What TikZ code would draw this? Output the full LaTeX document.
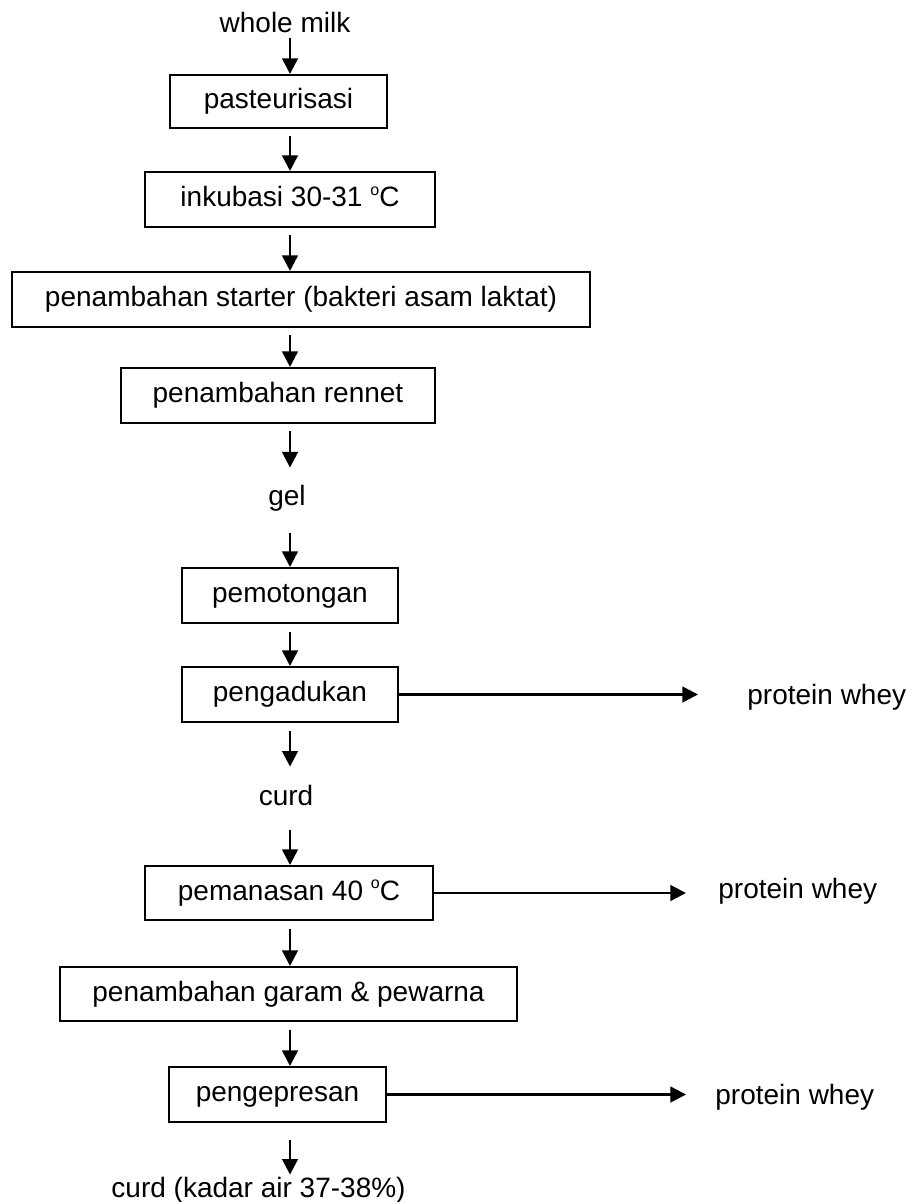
\documentclass[tikz,border=0pt]{standalone}
\usepackage{fontspec}
\setmainfont{Liberation Sans}
\usetikzlibrary{arrows.meta}
\newcommand{\degsign}{\raisebox{5.8pt}{\fontsize{8pt}{8pt}\selectfont o}}
\tikzset{
  stepbox/.style={draw, line width=1pt, inner sep=0pt, align=center,
                  text height=10.2pt, text depth=2.9pt},
  plain/.style={inner sep=0pt},
  flow/.style={line width=1.25pt, -{Triangle[length=7.8pt,width=7.8pt]}},
  down/.style={flow, shorten <=3.75pt},
}
\begin{document}
\begin{tikzpicture}[x=0.5pt, y=-0.5pt, font=\fontsize{14pt}{17pt}\selectfont]
\useasboundingbox (0,0) rectangle (922,1202);
\coordinate (axis) at (290,0);

% main process chain
\node[plain, anchor=base, text depth=2.5pt] (milk) at (285,33) {whole milk};
\node[stepbox, minimum width=108.5pt, minimum height=26.5pt] (pas) at (278.5,101.5) {pasteurisasi};
\node[stepbox, minimum width=145pt, minimum height=27.5pt] (ink) at (290,199.5) {inkubasi 30-31 \degsign C};
\node[stepbox, minimum width=289pt, minimum height=27.5pt] (sta) at (301,299.5) {penambahan starter (bakteri asam laktat)};
\node[stepbox, minimum width=157pt, minimum height=27.5pt] (ren) at (278,395.5) {penambahan rennet};
\node[plain, anchor=base, text height=18.5pt, text depth=14pt] (gel) at (287,505) {gel};
\node[stepbox, minimum width=108pt, minimum height=27.5pt] (pot) at (290,595.5) {pemotongan};
\node[stepbox, minimum width=108pt, minimum height=27.5pt] (adu) at (290,694.5) {pengadukan};
\node[plain, anchor=base, text height=19pt, text depth=12.5pt] (curd) at (286,805) {curd};
\node[stepbox, minimum width=144pt, minimum height=27pt] (pan) at (289,893) {pemanasan 40 \degsign C};
\node[stepbox, minimum width=228.5pt, minimum height=27pt] (gar) at (288.5,994) {penambahan garam \& pewarna};
\node[stepbox, minimum width=108.5pt, minimum height=27.5pt] (pre) at (277.5,1094.5) {pengepresan};
\node[plain, anchor=base east, text height=11pt] (fin) at (406,1197) {curd (kadar air 37-38\%)};

% side products
\node[plain, anchor=base west, text height=10.2pt, text depth=2.9pt] (w1) at (747,704) {protein whey};
\node[plain, anchor=base west, text height=10.2pt, text depth=2.9pt] (w2) at (718,898) {protein whey};
\node[plain, anchor=base west, text height=10.2pt, text depth=2.9pt] (w3) at (715,1104) {protein whey};

% vertical flow
\draw[flow] (milk.south -| axis) -- (pas.north -| axis);
\draw[down] (pas.south -| axis) -- (ink.north -| axis);
\draw[down] (ink.south -| axis) -- (sta.north -| axis);
\draw[down] (sta.south -| axis) -- (ren.north -| axis);
\draw[down] (ren.south -| axis) -- (gel.north -| axis);
\draw[flow] (gel.south -| axis) -- (pot.north -| axis);
\draw[down] (pot.south -| axis) -- (adu.north -| axis);
\draw[down] (adu.south -| axis) -- (curd.north -| axis);
\draw[flow] (curd.south -| axis) -- (pan.north -| axis);
\draw[down] (pan.south -| axis) -- (gar.north -| axis);
\draw[down] (gar.south -| axis) -- (pre.north -| axis);
\draw[flow, shorten <=8.5pt] (pre.south -| axis) -- (fin.north -| axis);

% whey outlets
\draw[flow, shorten >=24.5pt] (adu.east) -- (adu.east -| w1.west);
\draw[flow, shorten >=16pt] (pan.east) -- (pan.east -| w2.west);
\draw[flow, shorten >=14.5pt] (pre.east) -- (pre.east -| w3.west);
\end{tikzpicture}
\end{document}
